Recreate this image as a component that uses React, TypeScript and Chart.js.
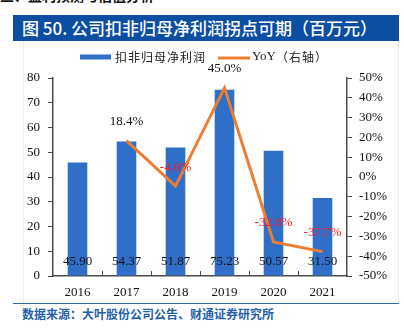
import React, { useEffect, useRef } from 'react';
import { Chart, registerables } from 'chart.js';

Chart.register(...registerables);

const categories = ['2016', '2017', '2018', '2019', '2020', '2021'];
const profitValues = [45.9, 54.37, 51.87, 75.23, 50.57, 31.5];
const yoyValues: (number | null)[] = [null, 18.4, -4.6, 45.0, -32.8, -37.7];
const profitLabels = ['45.90', '54.37', '51.87', '75.23', '50.57', '31.50'];
const leftMin = 0;
const leftMax = 80;
const leftStep = 10;
const rightMin = -50;
const rightMax = 50;
const rightStep = 10;

const seriesNames = ['扣非归母净利润', 'YoY（右轴）'];
const titleText = '图 50. 公司扣非归母净利润拐点可期（百万元）';
const sourceText = '数据来源：大叶股份公司公告、财通证券研究所';

const BAR = '#2F6FC7';
const LINE = '#ED7D31';
const AXIS = '#4a4a4a';
const SERIF = '"Liberation Serif", "Times New Roman", serif';
const CJK = '"Noto Sans CJK SC", sans-serif';

const legendPlugin = {
  id: 'customLegend',
  afterDraw(chart: any) {
    const ctx = chart.ctx;
    ctx.save();
    ctx.fillStyle = BAR;
    ctx.fillRect(80, 54.5, 31, 5);
    ctx.font = `12px ${CJK}`;
    (ctx as any).letterSpacing = '1px';
    ctx.fillStyle = '#222';
    ctx.textBaseline = 'middle';
    ctx.textAlign = 'left';
    ctx.fillText(seriesNames[0], 115, 57);
    ctx.strokeStyle = LINE;
    ctx.lineWidth = 3;
    ctx.beginPath();
    ctx.moveTo(218, 58);
    ctx.lineTo(250, 58);
    ctx.stroke();
    (ctx as any).letterSpacing = '0px';
    ctx.font = `13px ${SERIF}`;
    ctx.fillText('YoY', 252, 57);
    const w = ctx.measureText('YoY').width;
    ctx.font = `12px ${CJK}`;
    (ctx as any).letterSpacing = '1px';
    ctx.fillText(seriesNames[1].slice(3), 252 + w, 57);
    ctx.restore();
  },
};

const innerTicksPlugin = {
  id: 'innerTicks',
  afterDraw(chart: any) {
    const ctx = chart.ctx;
    const x = chart.scales.x;
    const bottom = chart.chartArea.bottom;
    ctx.save();
    ctx.strokeStyle = AXIS;
    ctx.lineWidth = 1;
    for (let i = 0; i < categories.length - 1; i++) {
      const px = Math.round((x.getPixelForValue(i) + x.getPixelForValue(i + 1)) / 2) + 0.5;
      ctx.beginPath();
      ctx.moveTo(px, bottom);
      ctx.lineTo(px, bottom - 5);
      ctx.stroke();
    }
    ctx.restore();
  },
};

const labelPlugin = {
  id: 'valueLabels',
  afterDatasetsDraw(chart: any) {
    const ctx = chart.ctx;
    const x = chart.scales.x;
    const y = chart.scales.y;
    const y1 = chart.scales.y1;
    ctx.save();
    ctx.font = `13px ${SERIF}`;
    ctx.textAlign = 'center';
    ctx.textBaseline = 'middle';
    profitValues.forEach((v, i) => {
      ctx.fillStyle = '#111';
      ctx.fillText(profitLabels[i], x.getPixelForValue(i), y.getPixelForValue(0) - 14);
    });
    yoyValues.forEach((v, i) => {
      if (v === null) return;
      ctx.fillStyle = v < 0 ? '#FF1A1A' : '#111';
      ctx.fillText(v.toFixed(1) + '%', x.getPixelForValue(i), y1.getPixelForValue(v) - 19);
    });
    ctx.restore();
  },
};

function ChartCanvas() {
  const ref = useRef<HTMLCanvasElement | null>(null);
  useEffect(() => {
    if (!ref.current) return;
    const chart = new Chart(ref.current, {
      type: 'bar',
      data: {
        labels: categories,
        datasets: [
          {
            type: 'line',
            label: seriesNames[1],
            data: yoyValues as any,
            yAxisID: 'y1',
            borderColor: LINE,
            backgroundColor: LINE,
            borderWidth: 3,
            pointRadius: 0,
            tension: 0,
            order: 0,
          } as any,
          {
            type: 'bar',
            label: seriesNames[0],
            data: profitValues,
            yAxisID: 'y',
            backgroundColor: BAR,
            barPercentage: 0.4,
            categoryPercentage: 1,
            order: 1,
          },
        ],
      },
      options: {
        responsive: false,
        animation: false,
        devicePixelRatio: 1,
        layout: { padding: { top: 78, left: 0, right: 0, bottom: 0 } },
        plugins: {
          legend: { display: false },
          title: { display: false },
          tooltip: { enabled: false },
        },
        scales: {
          x: {
            grid: { display: false, drawTicks: false },
            border: { display: true, color: AXIS, width: 1.5 },
            ticks: { color: '#111', font: { family: SERIF, size: 13 }, padding: 9, maxRotation: 0 },
            afterFit: (s: any) => { s.height = 57; },
          },
          y: {
            position: 'left',
            min: leftMin,
            max: leftMax,
            ticks: { stepSize: leftStep, color: '#111', font: { family: SERIF, size: 13 }, padding: 8 },
            grid: { drawOnChartArea: false, drawTicks: true, tickLength: 5, color: AXIS },
            border: { display: true, color: AXIS, width: 1.5 },
            afterFit: (s: any) => { s.width = 53; },
          },
          y1: {
            position: 'right',
            min: rightMin,
            max: rightMax,
            ticks: {
              stepSize: rightStep,
              color: '#111',
              font: { family: SERIF, size: 13 },
              padding: 7,
              callback: (v: any) => `${v}%`,
            },
            grid: { drawOnChartArea: false, drawTicks: true, tickLength: 5, color: AXIS },
            border: { display: true, color: AXIS, width: 1.5 },
            afterFit: (s: any) => { s.width = 57; },
          },
        },
      },
      plugins: [legendPlugin, innerTicksPlugin, labelPlugin],
    });
    return () => chart.destroy();
  }, []);
  return (
    <canvas
      ref={ref}
      width={404}
      height={333}
      style={{ position: 'absolute', left: 0, top: 0, width: 404, height: 333 }}
    />
  );
}

export default function App() {
  return (
    <div
      style={{
        position: 'absolute',
        left: 0,
        top: 0,
        width: 404,
        height: 333,
        background: '#fff',
        overflow: 'hidden',
      }}
    >
      <div
        style={{
          position: 'absolute',
          left: 0,
          top: -13,
          height: 17,
          overflow: 'hidden',
          font: `bold 14px ${CJK}`,
          color: '#111',
          whiteSpace: 'nowrap',
          lineHeight: '16px',
        }}
      >
        三、盈利预测与估值分析
      </div>
      <div
        style={{
          position: 'absolute',
          left: 23,
          top: 41,
          width: 374,
          height: 263,
          borderLeft: '1px solid #efefef',
          borderRight: '1px solid #efefef',
        }}
      />
      <div
        style={{
          position: 'absolute',
          left: 13,
          top: 15,
          width: 386,
          height: 26,
          background: '#0C4EA2',
          color: '#fff',
          font: `500 17px ${CJK}`,
          lineHeight: '26px',
          paddingLeft: 9,
          boxSizing: 'border-box',
          whiteSpace: 'nowrap',
        }}
      >
        {titleText}
      </div>
      <div
        style={{
          position: 'absolute',
          left: 13,
          top: 303,
          width: 386,
          height: 0,
          borderTop: '1.5px solid #2E6DB6',
        }}
      />
      <div
        style={{
          position: 'absolute',
          left: 22,
          top: 305,
          font: `bold 12px ${CJK}`,
          color: '#1F5FAD',
          lineHeight: '17px',
          whiteSpace: 'nowrap',
        }}
      >
        {sourceText}
      </div>
      <ChartCanvas />
    </div>
  );
}
